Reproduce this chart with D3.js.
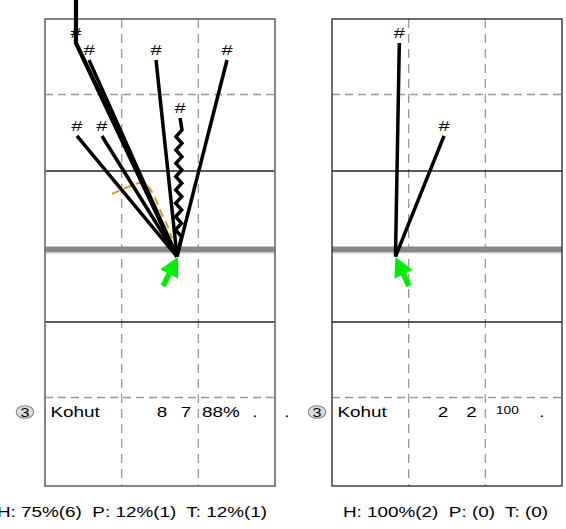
<!DOCTYPE html>
<html><head><meta charset="utf-8">
<script src="https://cdn.jsdelivr.net/npm/d3@7"></script>
<style>body{margin:0;background:#fff;} svg{display:block;font-family:"Liberation Sans",Arial,Helvetica,sans-serif;} text{white-space:pre;}</style>
</head><body><svg id="c" width="566" height="529"></svg>
<script>
// ---------------- data (field units: columns 0..3, rows -3..3) ----------------
const colDashed = [1, 2];
const rowDashed = [2, -2];
const rowSolid = [1, -1];
const rowBase = [0];

const originLeft = [1.722, -0.097];
const hitXLeft = [0.404, 0.574, 1.448, 2.374, 0.417, 0.743, 1.761];
const hitYLeft = [2.682, 2.457, 2.457, 2.457, 1.458, 1.458, 1.693];
const hitTypeLeft = ["over", "fly", "fly", "fly", "fly", "fly", "ground"];
const hitLabelLeft = ["#", "#", "#", "#", "#", "#", "#"];
const arcXLeft = [0.874, 1.083, 1.278, 1.396, 1.5, 1.591, 1.657];
const arcYLeft = [0.707, 0.796, 0.847, 0.732, 0.503, 0.312, 0.146];
const arrowLeft = [[1.539, -0.503], [1.735, -0.103]];
const rowLeft = ["3", "Kohut", "8", "7", "88%", ".", "."];
const summaryLeft = "H: 75%(6)  P: 12%(1)  T: 12%(1)";

const originRight = [0.828, -0.097];
const hitXRight = [0.878, 1.461];
const hitYRight = [2.682, 1.458];
const hitTypeRight = ["fly", "fly"];
const hitLabelRight = ["#", "#"];
const arrowRight = [[1.004, -0.503], [0.828, -0.103]];
const rowRight = ["3", "Kohut", "2", "2", "100", "."];
const summaryRight = "H: 100%(2)  P: (0)  T: (0)";

// ---------------- drawing ----------------
const svg = d3.select("#c");
const y = d3.scaleLinear().domain([-3, -2, -1, 0, 1, 2, 3]).range([486, 397.5, 322, 249.5, 171, 94.5, 19]);

function stext(g, x, yy, str, size, anchor, sx, fill) {
  return g.append("text")
    .attr("transform", `translate(${x},${yy}) scale(${sx || 1.35},1)`)
    .attr("text-anchor", anchor || "start")
    .attr("font-size", size)
    .attr("fill", fill || "#000")
    .text(str);
}

function drawPanel(cfg) {
  const x = d3.scaleLinear().domain([0, 3]).range([cfg.x0, cfg.x0 + 230]);
  const g = svg.append("g");
  const [x0, x1] = x.range();
  const yt = y(3), yb = y(-3);

  g.selectAll(".vd").data(colDashed).join("line")
    .attr("x1", d => x(d)).attr("x2", d => x(d)).attr("y1", yt).attr("y2", yb)
    .attr("stroke", "#999").attr("stroke-width", 1.3).attr("stroke-dasharray", "9,6");
  g.selectAll(".hd").data(rowDashed).join("line")
    .attr("x1", x0).attr("x2", x1).attr("y1", d => y(d)).attr("y2", d => y(d))
    .attr("stroke", "#999").attr("stroke-width", 1.3).attr("stroke-dasharray", "8,5");
  g.selectAll(".hs").data(rowSolid).join("line")
    .attr("x1", x0).attr("x2", x1).attr("y1", d => y(d)).attr("y2", d => y(d))
    .attr("stroke", "#222").attr("stroke-width", 1.3);
  g.selectAll(".hb").data(rowBase).join("line")
    .attr("x1", x0).attr("x2", x1).attr("y1", d => y(d)).attr("y2", d => y(d))
    .attr("stroke", "#888").attr("stroke-width", 6);
  g.selectAll(".hb2").data(rowBase).join("line")
    .attr("x1", x0).attr("x2", x1).attr("y1", d => y(d) + 3.5).attr("y2", d => y(d) + 3.5)
    .attr("stroke", "#ccc").attr("stroke-width", 1);
  g.append("rect").attr("x", x0).attr("y", yt).attr("width", x1 - x0).attr("height", yb - yt)
    .attr("fill", "none").attr("stroke", cfg.border).attr("stroke-width", cfg.borderW);

  if (cfg.arcX) {
    const pts = cfg.arcX.map((v, i) => [x(v), y(cfg.arcY[i])]);
    g.append("path").attr("d", d3.line().curve(d3.curveCatmullRom)(pts))
      .attr("fill", "none").attr("stroke", "#d0a020").attr("stroke-width", 2).attr("stroke-dasharray", "8,5");
  }

  const ox = x(cfg.origin[0]), oy = y(cfg.origin[1]);
  cfg.hitX.forEach((hx, i) => {
    const ex = x(hx), ey = y(cfg.hitY[i]);
    let pts;
    if (cfg.types[i] === "ground") {
      pts = [[ox, oy]];
      const yb0 = oy - 20, yt0 = ey + 12;
      const n = Math.round((yb0 - yt0) / 6.8);
      for (let k = 0; k <= n; k++) {
        const t = k / n;
        const yy = yb0 - t * (yb0 - yt0);
        const cx = ox + 1.5 + t * 0.5;
        pts.push([cx + (k % 2 === 0 ? 3 : -3), yy]);
      }
      pts.push([ex, ey]);
    } else if (cfg.types[i] === "over") {
      pts = [[ox, oy], [ex, ey], [ex, y(3.26)]];
    } else {
      pts = [[ox, oy], [ex, ey]];
    }
    g.append("path").attr("d", d3.line()(pts)).attr("fill", "none")
      .attr("stroke", "#000").attr("stroke-width", cfg.types[i] === "over" ? 4.2 : 3.5)
      .attr("stroke-linejoin", "miter");
    stext(g, ex, ey - 5, cfg.labels[i], 15.5, "middle", 1.3, "#111");
  });

  const [t0, t1] = cfg.arrow;
  const ax0 = x(t0[0]), ay0 = y(t0[1]), ax1 = x(t1[0]), ay1 = y(t1[1]);
  const L = Math.hypot(ax1 - ax0, ay1 - ay0), ux = (ax1 - ax0) / L, uy = (ay1 - ay0) / L;
  const hl = 19, hw = 10;
  const bx = ax1 - ux * hl, by = ay1 - uy * hl;
  g.append("line").attr("x1", ax0).attr("y1", ay0).attr("x2", bx + ux * 2).attr("y2", by + uy * 2)
    .attr("stroke", "#00ee00").attr("stroke-width", 5.5);
  g.append("path").attr("d", d3.line()([[ax1, ay1], [bx - uy * hw, by + ux * hw], [bx + uy * hw, by - ux * hw]]) + "Z")
    .attr("fill", "#00ee00");

  const r = cfg.row, ry = 417;
  g.append("ellipse").attr("cx", x0 + cfg.circDx).attr("cy", 412).attr("rx", 8.8).attr("ry", 6.3)
    .attr("fill", "#ddd").attr("stroke", "#888").attr("stroke-width", 1.1);
  stext(g, x0 + cfg.circDx, 417, r[0], 13.5, "middle", 1.2);
  stext(g, x0 + 5.5, ry, r[1], 14, "start");
  stext(g, x0 + cfg.n1, ry, r[2], 14, "middle");
  stext(g, x0 + cfg.n2, ry, r[3], 14, "middle");
  if (r[4] === "100") stext(g, x0 + 164, 413.5, r[4], 10.5, "start", 1.3);
  else stext(g, x0 + 157, ry, r[4], 14, "start");
  for (let k = 5; k < r.length; k++) stext(g, x0 + 210 + (k - 5) * 32, ry, r[k], 14, "middle");

  stext(g, cfg.sumX, 516.5, cfg.summary, 14.2, "middle", 1.33);
}

drawPanel({ x0: 45, border: "#777", borderW: 1.8, origin: originLeft, hitX: hitXLeft, hitY: hitYLeft,
  types: hitTypeLeft, labels: hitLabelLeft, arcX: arcXLeft, arcY: arcYLeft, arrow: arrowLeft,
  row: rowLeft, summary: summaryLeft, circDx: -20, sumX: 132, n1: 117, n2: 141 });
drawPanel({ x0: 332, border: "#222", borderW: 1.3, origin: originRight, hitX: hitXRight, hitY: hitYRight,
  types: hitTypeRight, labels: hitLabelRight, arrow: arrowRight,
  row: rowRight, summary: summaryRight, circDx: -15, sumX: 445.5, n1: 111, n2: 139.5 });
</script></body></html>
